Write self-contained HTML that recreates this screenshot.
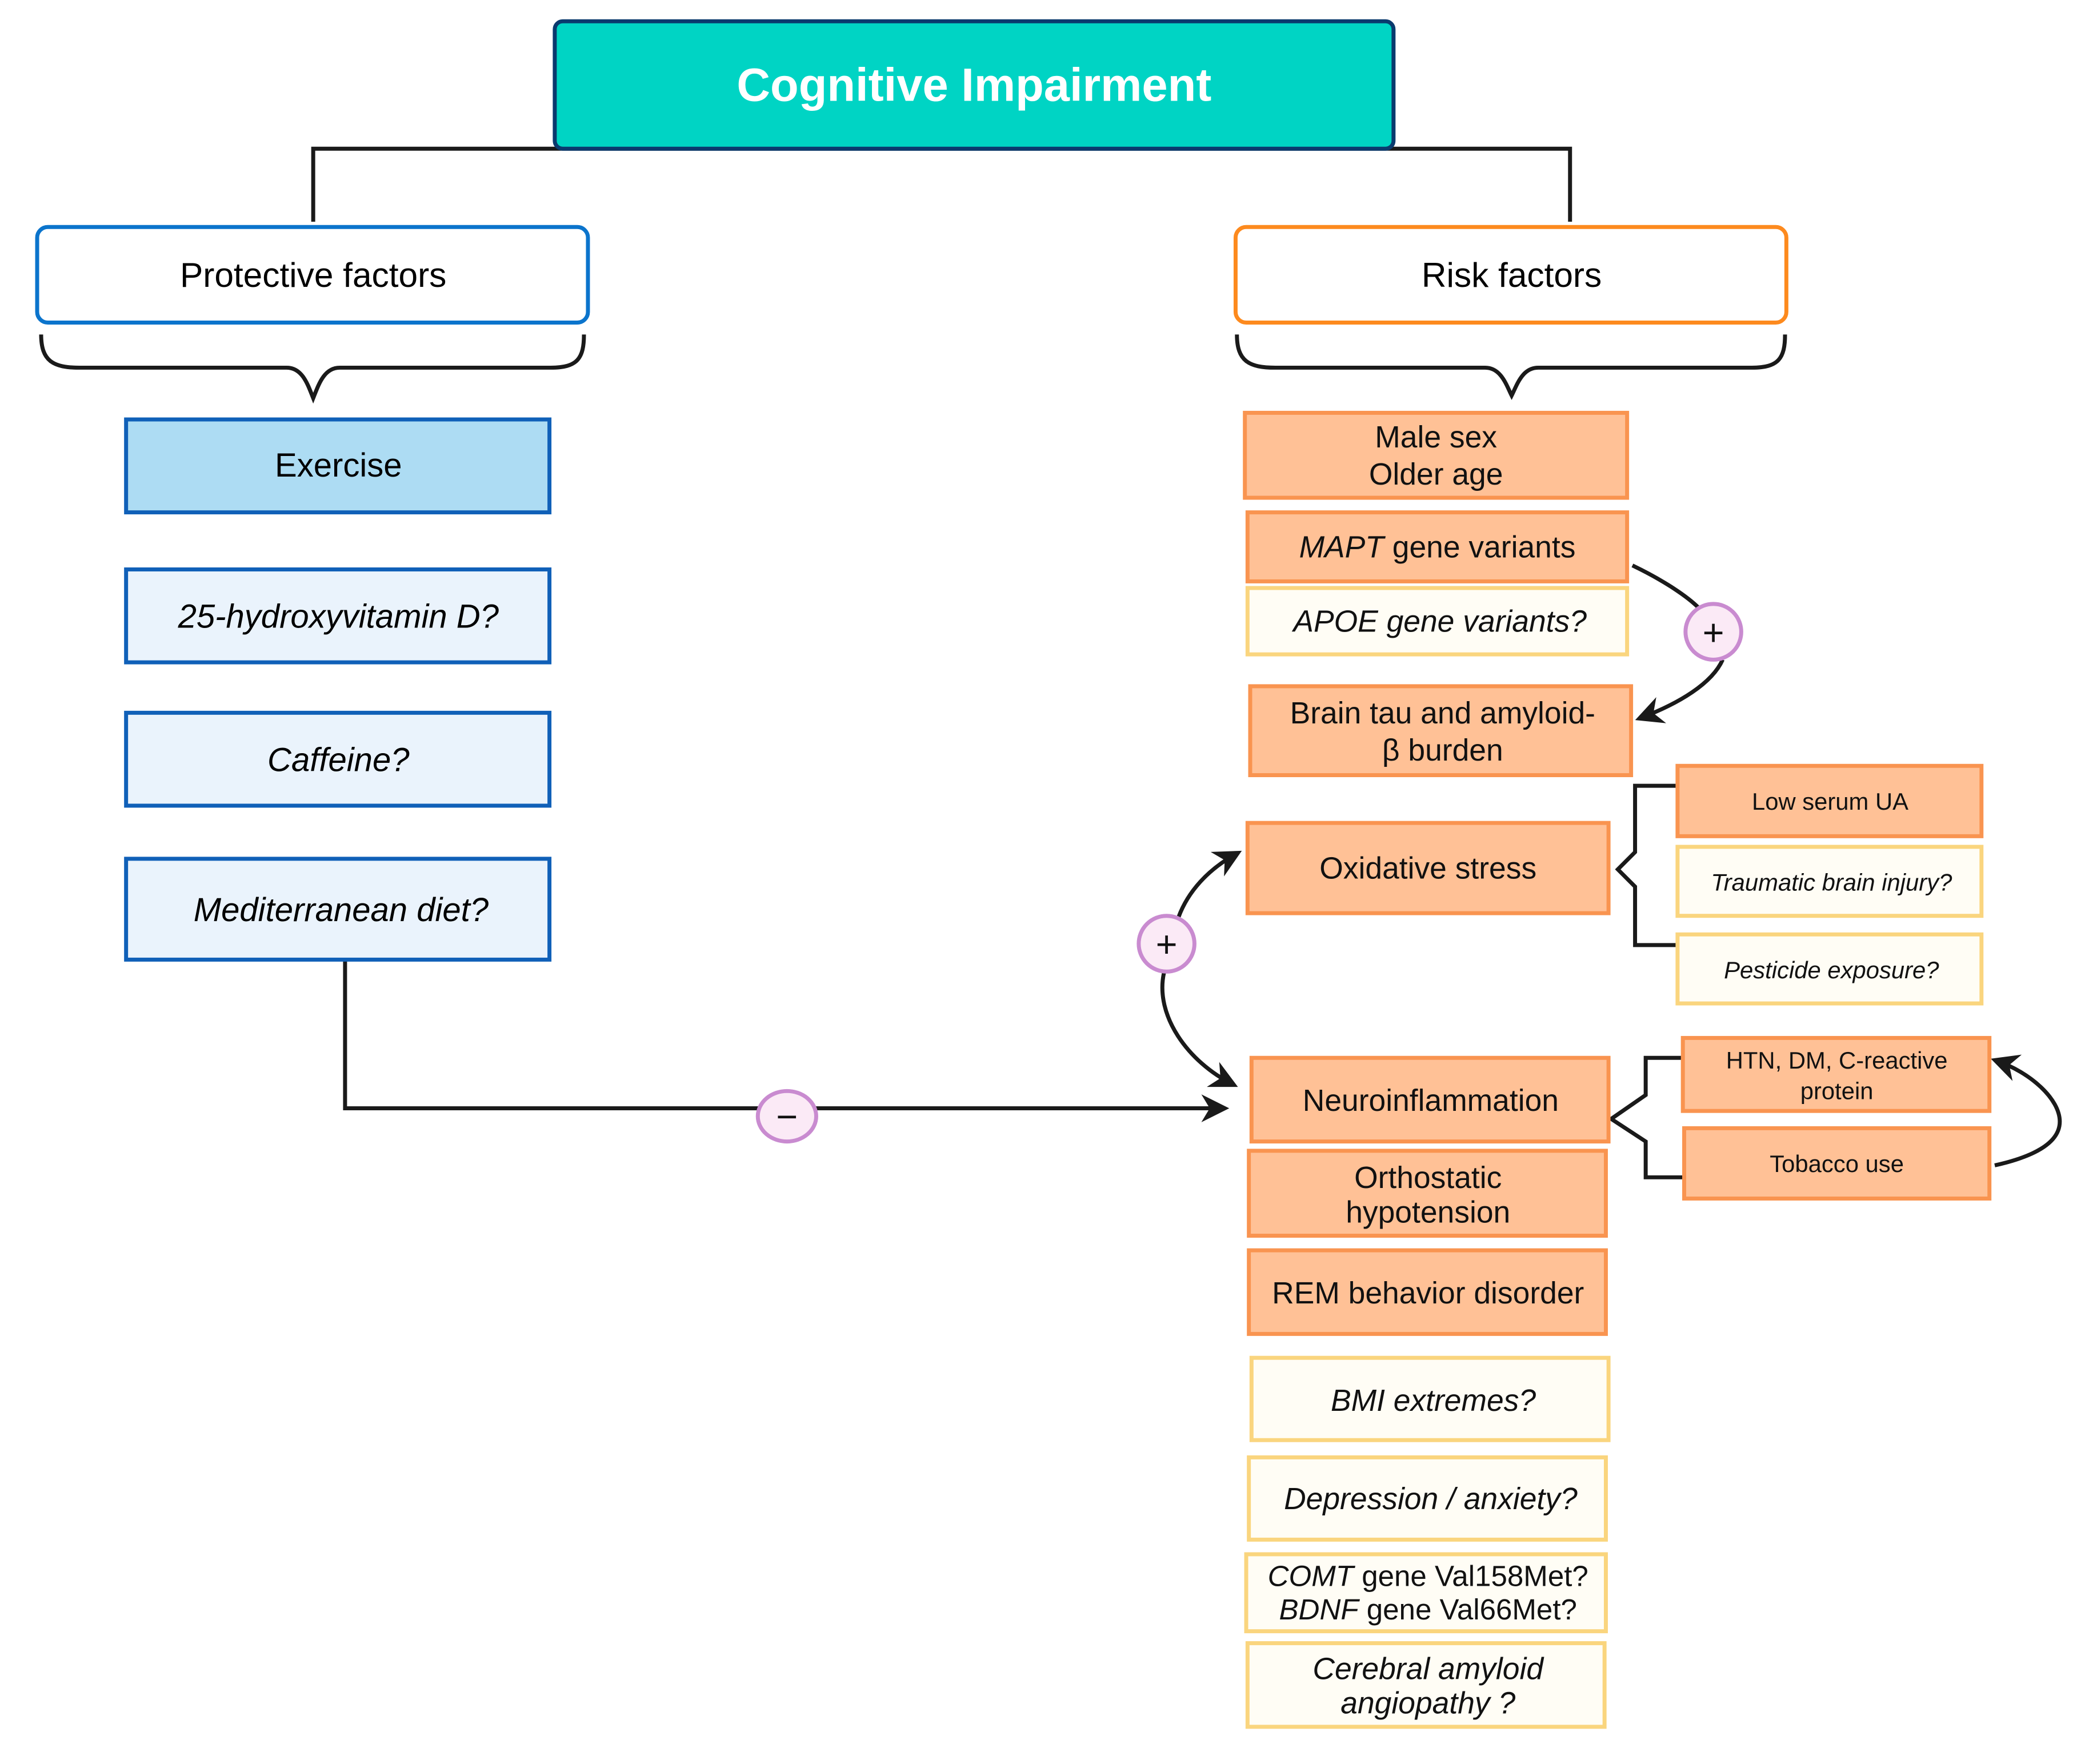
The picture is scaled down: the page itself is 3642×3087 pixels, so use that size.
<!DOCTYPE html>
<html><head><meta charset="utf-8"><style>html,body{margin:0;padding:0;background:#fff}svg{display:block}</style></head><body>
<svg width="3642" height="3087" viewBox="0 0 1568 1329" xmlns="http://www.w3.org/2000/svg" font-family="Liberation Sans, sans-serif">
<defs><marker id="a" viewBox="0 0 10 10" refX="8" refY="5" markerWidth="7" markerHeight="7" orient="auto"><path d="M0,0 L10,5 L0,10 L3,5z" fill="#1a1a1a"/></marker></defs>
<g fill="none" stroke="#1a1a1a" stroke-width="3">
<path d="M236,167 V112 H1183 V167"/>
<path d="M31,252 C31,272 40,277 60,277 H216 C228,277 232,290 236,300 C240,290 244,277 256,277 H415 C435,277 440,270 440,252"/>
<path d="M932,252 C932,272 941,277 961,277 H1119 C1131,277 1135,290 1139,298 C1143,290 1147,277 1159,277 H1320 C1340,277 1345,270 1345,252"/>
<path d="M260,723 V835 H922" marker-end="url(#a)"/>
<path d="M1230,426 C1255,438 1272,450 1280,458"/>
<path d="M1298,497 C1290,515 1265,530 1236,541" marker-end="url(#a)"/>
<path d="M1263,592 H1232 V642 L1219,655 L1232,668 V712 H1263"/>
<path d="M1268,797 H1240 V825 L1214,843 L1240,860 V887 H1268"/>
<path d="M888,691 C895,672 910,655 932,643" marker-end="url(#a)"/>
<path d="M877,733 C870,765 895,800 929,817" marker-end="url(#a)"/>
<path d="M1503,878 C1530,872 1552,862 1552,845 C1552,828 1530,808 1504,799" marker-end="url(#a)"/>
</g>
<rect x="418" y="16" width="632" height="96" rx="6" fill="#00D4C4" stroke="#0A3A6E" stroke-width="3"/>
<text x="734" y="76" font-size="35" font-weight="bold" fill="#fff" text-anchor="middle">Cognitive Impairment</text>
<rect x="28" y="171" width="415" height="72" rx="8" fill="#fff" stroke="#0B74CC" stroke-width="3"/>
<text x="236" y="216" font-size="26" text-anchor="middle">Protective  factors</text>
<rect x="931" y="171" width="415" height="72" rx="8" fill="#fff" stroke="#FD8A1E" stroke-width="3"/>
<text x="1139" y="216" font-size="26" text-anchor="middle">Risk  factors</text>
<g stroke="#1060B8" stroke-width="3">
<rect x="95" y="316" width="319" height="70" fill="#ADDCF3"/>
<rect x="95" y="429" width="319" height="70" fill="#EAF3FC"/>
<rect x="95" y="537" width="319" height="70" fill="#EAF3FC"/>
<rect x="95" y="647" width="319" height="76" fill="#EAF3FC"/>
</g>
<g font-size="25" text-anchor="middle">
<text x="255" y="359">Exercise</text>
<text x="255" y="473" font-style="italic">25-hydroxyvitamin D?</text>
<text x="255" y="581" font-style="italic">Caffeine?</text>
<text x="257" y="694" font-style="italic">Mediterranean diet?</text>
</g>
<g stroke="#F99450" stroke-width="3" fill="#FFC196">
<rect x="938" y="311" width="288" height="64"/>
<rect x="940" y="386" width="286" height="52"/>
<rect x="942" y="517" width="287" height="67"/>
<rect x="940" y="620" width="272" height="68"/>
<rect x="1264" y="577" width="229" height="53"/>
<rect x="943" y="797" width="269" height="63"/>
<rect x="1268" y="782" width="231" height="55"/>
<rect x="1269" y="850" width="230" height="53"/>
<rect x="941" y="867" width="269" height="64"/>
<rect x="941" y="942" width="269" height="63"/>
</g>
<g stroke="#FAD57E" stroke-width="3" fill="#FFFDF5">
<rect x="940" y="443" width="286" height="50"/>
<rect x="1264" y="638" width="229" height="52"/>
<rect x="1264" y="704" width="229" height="52"/>
<rect x="943" y="1023" width="269" height="62"/>
<rect x="941" y="1098" width="269" height="62"/>
<rect x="939" y="1171" width="271" height="58"/>
<rect x="940" y="1238" width="269" height="63"/>
</g>
<g font-size="23" text-anchor="middle" fill="#111">
<text x="1082" y="337">Male sex</text>
<text x="1082" y="365">Older age</text>
<text x="1083" y="420"><tspan font-style="italic">MAPT</tspan> gene variants</text>
<text x="1085" y="476" font-style="italic">APOE gene variants?</text>
<text x="1087" y="545">Brain tau and amyloid-</text>
<text x="1087" y="573">β burden</text>
<text x="1076" y="662">Oxidative stress</text>
<text x="1078" y="837">Neuroinflammation</text>
<text x="1076" y="895">Orthostatic</text>
<text x="1076" y="921">hypotension</text>
<text x="1076" y="982">REM behavior disorder</text>
<text x="1080" y="1063" font-style="italic">BMI extremes?</text>
<text x="1078" y="1137" font-style="italic">Depression / anxiety?</text>
<text x="1076" y="1195" font-size="22"><tspan font-style="italic">COMT</tspan> gene Val158Met?</text>
<text x="1076" y="1220" font-size="22"><tspan font-style="italic">BDNF</tspan> gene Val66Met?</text>
<text x="1076" y="1265" font-style="italic">Cerebral amyloid</text>
<text x="1076" y="1291" font-style="italic">angiopathy ?</text>
</g>
<g font-size="18" text-anchor="middle" fill="#111">
<text x="1379" y="610">Low serum UA</text>
<text x="1380" y="671" font-style="italic">Traumatic brain injury?</text>
<text x="1380" y="737" font-style="italic">Pesticide exposure?</text>
<text x="1384" y="805">HTN, DM,  C-reactive</text>
<text x="1384" y="828">protein</text>
<text x="1384" y="883">Tobacco use</text>
</g>
<g fill="#FBEAF6" stroke="#C98BD0" stroke-width="3">
<circle cx="1291" cy="476" r="21"/>
<circle cx="879" cy="711" r="21"/>
<ellipse cx="593" cy="841" rx="22" ry="19"/>
</g>
<g font-size="28" text-anchor="middle" fill="#111">
<text x="1291" y="486">+</text>
<text x="879" y="721">+</text>
<text x="593" y="851">−</text>
</g>
</svg>
</body></html>
